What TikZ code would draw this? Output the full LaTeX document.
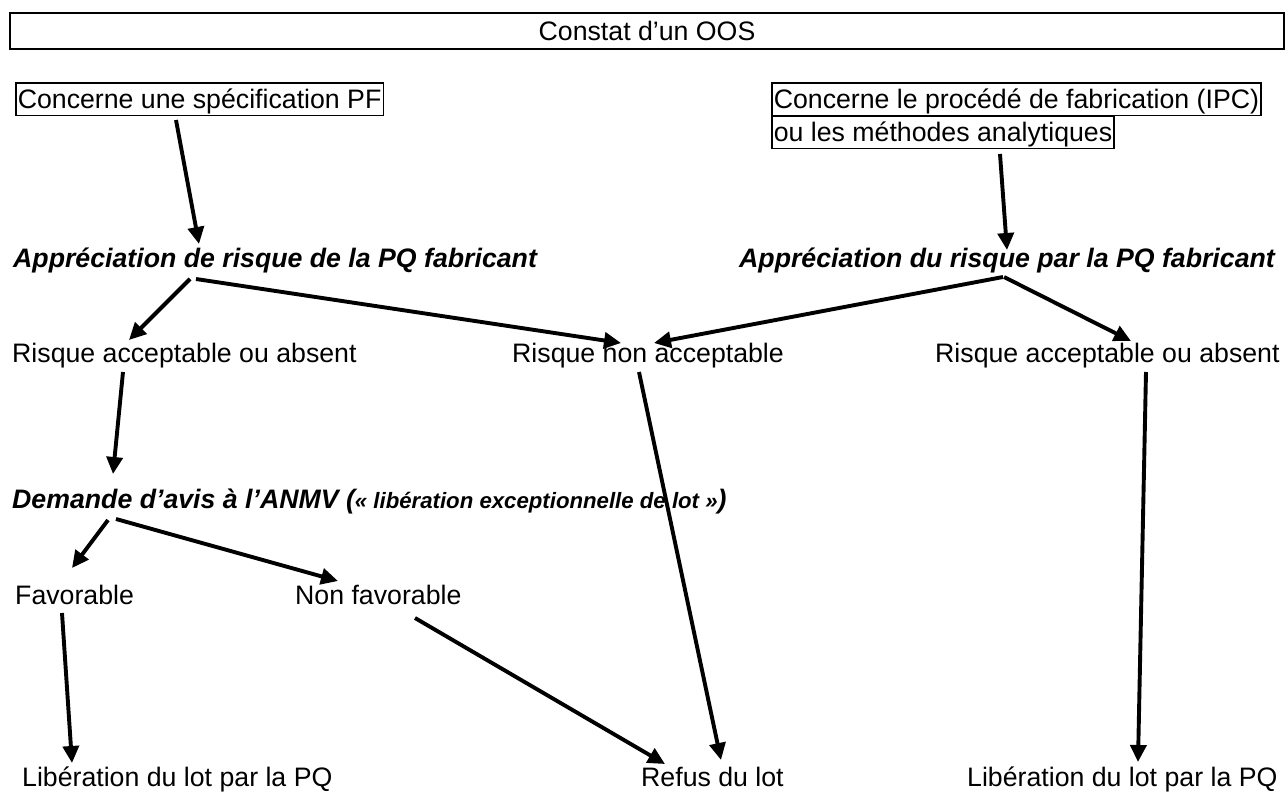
\documentclass[tikz,border=0pt]{standalone}
\usepackage{fontspec}
\setmainfont{Liberation Sans}
\usetikzlibrary{arrows.meta}
\begin{document}
\begin{tikzpicture}[x=1pt,y=-1pt,
  txt/.style={anchor=base west,inner sep=0pt,font=\fontsize{26.7}{32}\selectfont},
  btxt/.style={anchor=base west,inner sep=0pt,font=\fontsize{26.7}{32}\selectfont\bfseries\itshape},
  boxed/.style={draw,line width=1.6pt,anchor=base west,inner xsep=2pt,inner ysep=2pt,text height=23pt,text depth=5.5pt,font=\fontsize{26.7}{32}\selectfont},
  arr/.style={line width=3.9pt,-{Triangle[length=17pt,width=16pt]}}]
\useasboundingbox (0,0) rectangle (1286,792);

\node[draw,line width=2pt,minimum width=1274pt,minimum height=36pt,inner sep=0pt,font=\fontsize{26.7}{32}\selectfont] (top) at (647,31) {Constat d’un OOS};

\node[boxed] (lbox) at (15,108) {Concerne une spécification PF};
\node[boxed] (rbox1) at (771,108) {Concerne le procédé de fabrication (IPC)};
\node[boxed] (rbox2) at (771,141) {ou les méthodes analytiques};

\node[btxt] (lapp) at (13,267) {Appréciation de risque de la PQ fabricant};
\node[btxt] (rapp) at (739,267) {Appréciation du risque par la PQ fabricant};

\node[txt] (lacc) at (12,362) {Risque acceptable ou absent};
\node[txt] (nacc) at (512,362) {Risque non acceptable};
\node[txt] (racc) at (935,362) {Risque acceptable ou absent};

\node[btxt] (dem) at (12,508) {Demande d’avis à l’ANMV (\fontsize{22.2}{26}\selectfont« libération exceptionnelle de lot »\fontsize{26.7}{32}\selectfont)};

\node[txt] (fav) at (15,604) {Favorable};
\node[txt] (nfav) at (295,604) {Non favorable};

\node[txt] (llib) at (22,786) {Libération du lot par la PQ};
\node[txt] (refus) at (641,786) {Refus du lot};
\node[txt] (rlib) at (967,786) {Libération du lot par la PQ};

% connector end points
\coordinate (lbox-o) at (176,120);
\coordinate (lapp-i) at (199,244);
\coordinate (rbox-o) at (1000,154);
\coordinate (rapp-i) at (1007,250);
\coordinate (lapp-o1) at (190,279);
\coordinate (lacc-i) at (129,340);
\coordinate (lapp-o2) at (196,279);
\coordinate (nacc-i1) at (621,343);
\coordinate (rapp-o1) at (1003,277);
\coordinate (nacc-i2) at (654,343);
\coordinate (rapp-o2) at (1004,277);
\coordinate (racc-i) at (1131,341);
\coordinate (lacc-o) at (123,372);
\coordinate (dem-i) at (113,474);
\coordinate (nacc-o) at (639,372);
\coordinate (refus-i1) at (721,760);
\coordinate (racc-o) at (1146,372);
\coordinate (rlib-i) at (1138,762);
\coordinate (dem-o1) at (108,520);
\coordinate (fav-i) at (72,568);
\coordinate (dem-o2) at (116,519);
\coordinate (nfav-i) at (338,581);
\coordinate (fav-o) at (62,613);
\coordinate (llib-i) at (72,763);
\coordinate (nfav-o) at (415,618);
\coordinate (refus-i2) at (665,764);

\draw[arr] (lbox-o) -- (lapp-i);
\draw[arr] (rbox-o) -- (rapp-i);
\draw[arr] (lapp-o1) -- (lacc-i);
\draw[arr] (lapp-o2) -- (nacc-i1);
\draw[arr] (rapp-o1) -- (nacc-i2);
\draw[arr] (rapp-o2) -- (racc-i);
\draw[arr] (lacc-o) -- (dem-i);
\draw[arr] (nacc-o) -- (refus-i1);
\draw[arr] (racc-o) -- (rlib-i);
\draw[arr] (dem-o1) -- (fav-i);
\draw[arr] (dem-o2) -- (nfav-i);
\draw[arr] (fav-o) -- (llib-i);
\draw[arr] (nfav-o) -- (refus-i2);
\end{tikzpicture}
\end{document}
